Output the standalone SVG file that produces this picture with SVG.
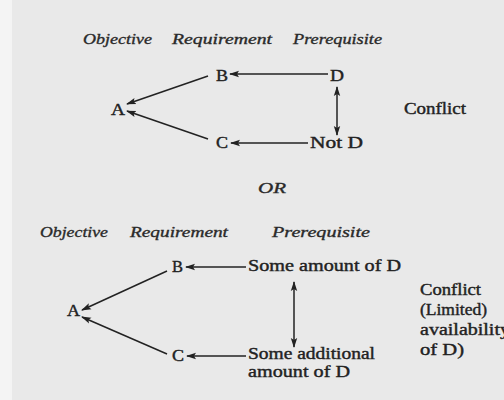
<svg xmlns="http://www.w3.org/2000/svg" width="504" height="400" viewBox="0 0 504 400">
  <style>
    .t { font-family: "Liberation Serif", "Times New Roman", serif; font-size: 16px; fill: #222; stroke: #222; stroke-width: 0.4; }
    .h { font-family: "Liberation Serif", "Times New Roman", serif; font-size: 15px; font-style: italic; fill: #2a2a2a; stroke: #2a2a2a; stroke-width: 0.35; }
    .c { stroke: #222; stroke-width: 1.5; fill: none; }
  </style>
  <defs>
    <marker id="head" viewBox="0 0 10 8" refX="9" refY="4" markerWidth="10" markerHeight="8" markerUnits="userSpaceOnUse" orient="auto-start-reverse">
      <path d="M0,0.8 L10,4 L0,7.2 L2,4 Z" fill="#222"/>
    </marker>
  </defs>

  <!-- paper -->
  <rect x="0" y="0" width="504" height="400" fill="#e9e9e9"/>
  <rect x="0" y="0" width="12" height="400" fill="#f4f4f4"/>

  <!-- upper diagram: column headings -->
  <g id="headings-1">
    <text class="h" x="83" y="44" textLength="69" lengthAdjust="spacingAndGlyphs">Objective</text>
    <text class="h" x="172" y="44" textLength="100" lengthAdjust="spacingAndGlyphs">Requirement</text>
    <text class="h" x="293" y="44" textLength="89" lengthAdjust="spacingAndGlyphs">Prerequisite</text>
  </g>

  <g id="node-A1"><text class="t" x="111" y="115" textLength="14" lengthAdjust="spacingAndGlyphs">A</text></g>
  <g id="node-B1"><text class="t" x="216" y="81" textLength="12" lengthAdjust="spacingAndGlyphs">B</text></g>
  <g id="node-C1"><text class="t" x="216" y="148" textLength="12" lengthAdjust="spacingAndGlyphs">C</text></g>
  <g id="node-D1"><text class="t" x="330" y="81" textLength="14" lengthAdjust="spacingAndGlyphs">D</text></g>
  <g id="node-notD1"><text class="t" x="310" y="148" textLength="53" lengthAdjust="spacingAndGlyphs">Not D</text></g>
  <g id="label-conflict1"><text class="t" x="404" y="114" textLength="62" lengthAdjust="spacingAndGlyphs">Conflict</text></g>

  <g id="label-or"><text class="h" x="258" y="193" textLength="28" lengthAdjust="spacingAndGlyphs">OR</text></g>

  <!-- lower diagram: column headings -->
  <g id="headings-2">
    <text class="h" x="40" y="237" textLength="68" lengthAdjust="spacingAndGlyphs">Objective</text>
    <text class="h" x="130" y="237" textLength="98" lengthAdjust="spacingAndGlyphs">Requirement</text>
    <text class="h" x="272" y="237" textLength="98" lengthAdjust="spacingAndGlyphs">Prerequisite</text>
  </g>

  <g id="node-A2"><text class="t" x="67" y="316" textLength="13" lengthAdjust="spacingAndGlyphs">A</text></g>
  <g id="node-B2"><text class="t" x="172" y="272" textLength="11" lengthAdjust="spacingAndGlyphs">B</text></g>
  <g id="node-C2"><text class="t" x="172" y="361" textLength="12" lengthAdjust="spacingAndGlyphs">C</text></g>
  <g id="node-someD"><text class="t" x="248" y="271" textLength="153" lengthAdjust="spacingAndGlyphs">Some amount of D</text></g>
  <g id="node-moreD">
    <text class="t" x="248" y="359" textLength="127" lengthAdjust="spacingAndGlyphs">Some additional</text>
    <text class="t" x="248" y="377" textLength="102" lengthAdjust="spacingAndGlyphs">amount of D</text>
  </g>
  <g id="label-conflict2">
    <text class="t" x="420" y="295" textLength="61" lengthAdjust="spacingAndGlyphs">Conflict</text>
    <text class="t" x="420" y="315" textLength="67" lengthAdjust="spacingAndGlyphs">(Limited)</text>
    <text class="t" x="420" y="335" textLength="90" lengthAdjust="spacingAndGlyphs">availability</text>
    <text class="t" x="420" y="355" textLength="44" lengthAdjust="spacingAndGlyphs">of D)</text>
  </g>

  <g id="connectors">
    <!-- upper -->
    <line class="c" x1="328" y1="74" x2="230" y2="74" marker-end="url(#head)"/>
    <line class="c" x1="308" y1="143" x2="231" y2="143" marker-end="url(#head)"/>
    <line class="c" x1="208" y1="76" x2="127" y2="104" marker-end="url(#head)"/>
    <line class="c" x1="208" y1="139" x2="127" y2="111" marker-end="url(#head)"/>
    <line class="c" x1="337" y1="87" x2="337" y2="135" marker-start="url(#head)" marker-end="url(#head)"/>
    <!-- lower -->
    <line class="c" x1="246" y1="267" x2="186" y2="267" marker-end="url(#head)"/>
    <line class="c" x1="246" y1="356" x2="187" y2="356" marker-end="url(#head)"/>
    <line class="c" x1="167" y1="271" x2="82" y2="310" marker-end="url(#head)"/>
    <line class="c" x1="167" y1="354" x2="82" y2="317" marker-end="url(#head)"/>
    <line class="c" x1="294" y1="282" x2="294" y2="347" marker-start="url(#head)" marker-end="url(#head)"/>
  </g>
</svg>
